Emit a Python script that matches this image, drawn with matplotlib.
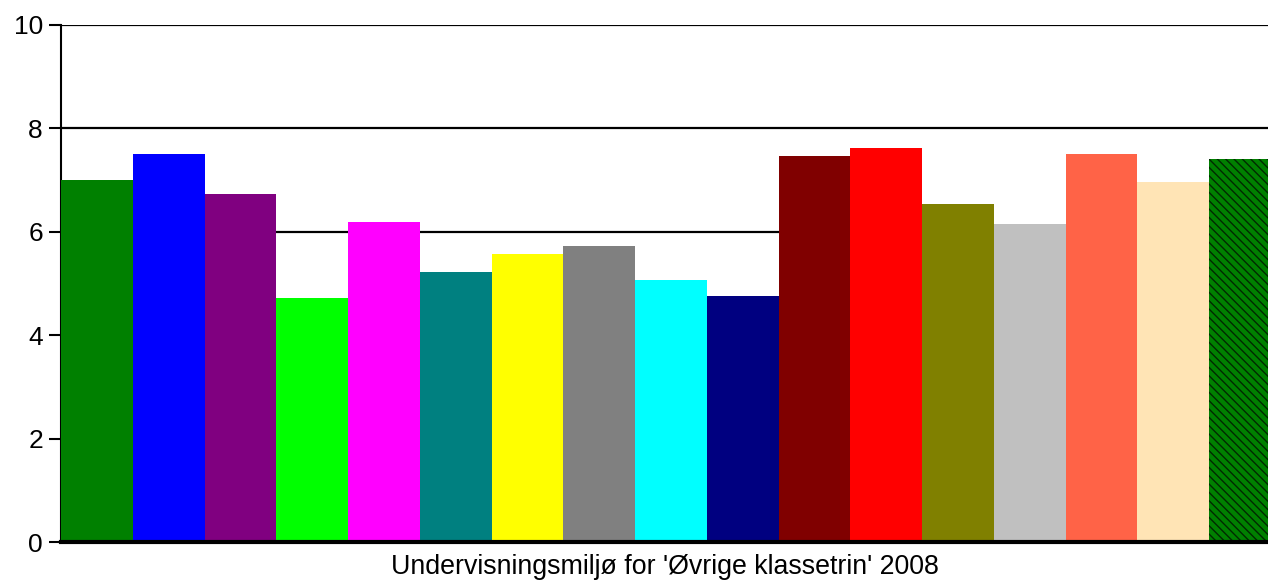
import matplotlib.pyplot as plt

plt.rcParams['font.family'] = ['Liberation Sans', 'DejaVu Sans']
plt.rcParams['hatch.color'] = '#002a00'
plt.rcParams['hatch.linewidth'] = 1.0

# one bar per school / group
values = [7.00, 7.50, 6.73, 4.72, 6.19, 5.22, 5.57, 5.73, 5.07, 4.76,
          7.47, 7.62, 6.54, 6.15, 7.50, 6.96, 7.41]
colors = ['#008000', '#0000FF', '#800080', '#00FF00', '#FF00FF', '#008080',
          '#FFFF00', '#808080', '#00FFFF', '#000080', '#800000', '#FF0000',
          '#808000', '#C0C0C0', '#FF6347', '#FFE4B5', '#008000']
xlabel = "Undervisningsmiljø for 'Øvrige klassetrin' 2008"

fig = plt.figure(figsize=(12.68, 5.82), dpi=100)
ax = fig.add_axes([61/1268, 40/582, 1207/1268, 517/582])

positions = range(len(values))
bars = ax.bar(positions, values, width=1.0, color=colors, linewidth=0, zorder=3)
# last bar is striped
bars[-1].set_hatch('\\\\\\\\')

ax.set_xlim(-0.5, 16.32)
ax.set_ylim(0, 10)
ax.set_yticks([0, 2, 4, 6, 8, 10])
ax.yaxis.grid(True, color='black', linewidth=1.6, zorder=0)
ax.set_xticks([])
ax.tick_params(axis='y', labelsize=19, length=9, width=1.5, direction='out', pad=4)

for s in ['top', 'right']:
    ax.spines[s].set_visible(False)
ax.spines['left'].set_linewidth(1.5)
ax.spines['bottom'].set_linewidth(3)
ax.spines['bottom'].set_zorder(4)

ax.set_xlabel(xlabel, fontsize=19.3, labelpad=9)

fig.savefig('out.png', dpi=100)
